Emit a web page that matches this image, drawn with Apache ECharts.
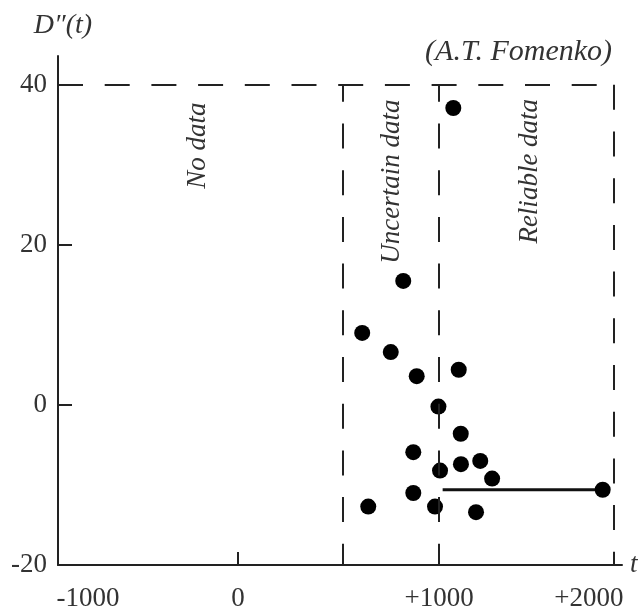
<!DOCTYPE html>
<html>
<head>
<meta charset="utf-8">
<script src="https://cdn.jsdelivr.net/npm/echarts@6/dist/echarts.min.js"></script>
<style>
  html, body { margin: 0; padding: 0; background: #fff; }
  #chart { width: 642px; height: 612px; }
</style>
</head>
<body>
<div id="chart"></div>
<script>
// ---- data ----
var pointsT = [1071, 822, 618, 760, 889, 1098, 997, 1108, 872, 1005, 1109, 1205, 1264, 872, 648, 980, 1184, 1814];
var pointsD = [37.1, 15.5, 9.0, 6.6, 3.6, 4.4, -0.2, -3.6, -5.9, -8.2, -7.4, -7.0, -9.2, -11.0, -12.7, -12.7, -13.4, -10.6];
var intervalT = [1018, 1814];
var intervalD = [-10.6, -10.6];
var boundaries = [520, 1000, 1870];
var topLevel = 40;
var yTickValues = [-20, 0, 20, 40];
var xTickLabels = ['-1000', '0', '+1000', '+2000'];
var regionLabels = ['No data', 'Uncertain data', 'Reliable data'];

var FONT = 'Liberation Serif';
var INK = '#222';
var TXT = '#333';

var chart = echarts.init(document.getElementById('chart'), null, { renderer: 'canvas' });

var scatterData = pointsT.map(function (t, i) { return [t, pointsD[i]]; });
var intervalData = intervalT.map(function (t, i) { return [t, intervalD[i]]; });

// label positions along x (reference places them off the linear grid)
var xLabelAt = [-746, 0, 1000, 1745];
var regionPos = [[-199, 32.4], [766, 27.9], [1452, 29.2]];

var xMin = -895, xMax = 1910, yMin = -20, yMax = 43.6;

var dashed = [25, 21.7];
var markLines = [];
markLines.push([{ coord: [xMin, topLevel], lineStyle: { dashOffset: 0 } }, { coord: [boundaries[2], topLevel] }]);
boundaries.forEach(function (b, i) {
  markLines.push([{ coord: [b, topLevel], lineStyle: { dashOffset: i < 2 ? 8 : 0 } }, { coord: [b, yMin] }]);
});

var option = {
  animation: false,
  backgroundColor: '#fff',
  title: {
    text: '(A.T. Fomenko)',
    right: 25,
    top: 32,
    textStyle: { fontFamily: FONT, fontStyle: 'italic', fontWeight: 'normal', fontSize: 30, color: TXT }
  },
  grid: { left: 58, right: 20, top: 56, bottom: 47, containLabel: false },
  xAxis: {
    type: 'value',
    min: xMin,
    max: xMax,
    name: 't',
    nameLocation: 'end',
    nameGap: 8,
    nameTextStyle: { fontFamily: FONT, fontStyle: 'italic', fontSize: 27, color: TXT, verticalAlign: 'middle' },
    axisLine: { show: true, onZero: false, lineStyle: { color: INK, width: 2 } },
    axisTick: { show: true, inside: true, length: 13, customValues: [0, 1000], lineStyle: { color: INK, width: 2 } },
    axisLabel: {
      show: true,
      customValues: xLabelAt,
      margin: 20,
      fontFamily: FONT,
      fontSize: 27,
      color: TXT,
      formatter: function (v) {
        var idx = xLabelAt.indexOf(v);
        return idx >= 0 ? xTickLabels[idx] : '';
      }
    },
    splitLine: { show: false }
  },
  yAxis: {
    type: 'value',
    min: yMin,
    max: yMax,
    name: 'D\u2033(t)',
    nameLocation: 'end',
    nameGap: 16,
    nameTextStyle: { fontFamily: FONT, fontStyle: 'italic', fontSize: 28, color: TXT, align: 'center', padding: [0, 0, 0, 10] },
    axisLine: { show: true, onZero: false, lineStyle: { color: INK, width: 2 } },
    axisTick: { show: true, inside: true, length: 14, customValues: [0, 20], lineStyle: { color: INK, width: 2 } },
    axisLabel: {
      show: true,
      customValues: yTickValues,
      margin: 11,
      fontFamily: FONT,
      fontSize: 27,
      color: TXT
    },
    splitLine: { show: false }
  },
  series: [
    {
      name: 'boundaries',
      type: 'line',
      data: [],
      silent: true,
      markLine: {
        silent: true,
        symbol: ['none', 'none'],
        label: { show: false },
        lineStyle: { color: INK, width: 2, type: dashed },
        data: markLines
      }
    },
    {
      name: 'interval',
      type: 'line',
      data: intervalData,
      symbol: 'none',
      lineStyle: { color: '#111', width: 3 },
      silent: true,
      z: 3
    },
    {
      name: 'D',
      type: 'scatter',
      data: scatterData,
      symbol: 'circle',
      symbolSize: 16,
      itemStyle: { color: '#000', opacity: 1 },
      z: 4
    },
    {
      name: 'regions',
      type: 'scatter',
      symbolSize: 0,
      silent: true,
      itemStyle: { opacity: 1 },
      data: regionLabels.map(function (n, i) { return { name: n, value: regionPos[i] }; }),
      label: {
        show: true,
        position: 'inside',
        rotate: 90,
        formatter: function (p) { return p.name; },
        fontFamily: FONT,
        fontStyle: 'italic',
        fontSize: 27,
        color: TXT,
        opacity: 1
      }
    }
  ]
};

chart.setOption(option);
</script>
</body>
</html>
